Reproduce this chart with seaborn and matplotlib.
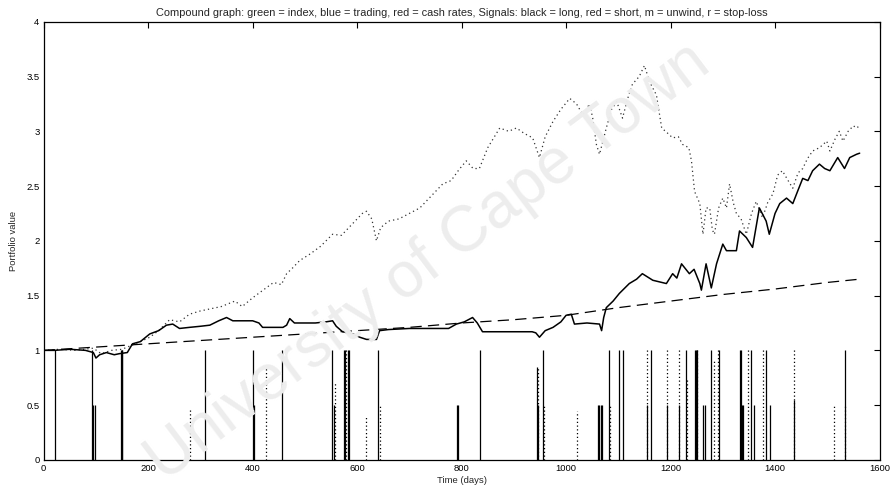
import matplotlib
matplotlib.use("Agg")
import matplotlib.pyplot as plt
import seaborn as sns
import pandas as pd
from matplotlib.ticker import FuncFormatter, MultipleLocator

# ---------------- data ----------------
index_days = [0, 30, 60, 95, 110, 130, 150, 170, 185, 203, 220, 241, 260, 279, 300, 320, 340, 366,
              380, 400, 420, 440, 455, 465, 476, 490, 510, 530, 553, 570, 590, 610, 618, 628, 637,
              645, 660, 680, 700, 720, 740, 764, 780, 795, 809, 822, 834, 850, 873, 890, 905, 920,
              936, 949, 960, 975, 990, 1007, 1020, 1032, 1045, 1051, 1058, 1064, 1077, 1087, 1097,
              1108, 1118, 1127, 1140, 1150, 1160, 1173, 1183, 1195, 1204, 1215, 1223, 1235, 1240,
              1246, 1256, 1262, 1268, 1275, 1280, 1284, 1292, 1300, 1307, 1313, 1320, 1326, 1335,
              1345, 1355, 1364, 1376, 1386, 1396, 1405, 1414, 1425, 1434, 1444, 1453, 1462, 1472,
              1485, 1499, 1505, 1515, 1523, 1530, 1540, 1550, 1556, 1562]
index_vals = [1.00, 1.01, 1.00, 1.02, 0.97, 1.00, 1.01, 1.05, 1.08, 1.12, 1.18, 1.28, 1.26, 1.33,
              1.36, 1.38, 1.40, 1.45, 1.40, 1.48, 1.55, 1.62, 1.60, 1.70, 1.75, 1.82, 1.88, 1.95,
              2.06, 2.05, 2.15, 2.25, 2.27, 2.20, 2.00, 2.12, 2.18, 2.20, 2.25, 2.30, 2.40, 2.52,
              2.55, 2.65, 2.73, 2.66, 2.66, 2.85, 3.03, 3.00, 3.03, 2.98, 2.94, 2.76, 2.95, 3.09,
              3.20, 3.30, 3.25, 3.15, 3.25, 3.12, 2.88, 2.79, 3.03, 3.20, 3.27, 3.12, 3.30, 3.43,
              3.50, 3.60, 3.45, 3.33, 3.03, 2.98, 2.94, 2.95, 2.88, 2.85, 2.73, 2.45, 2.34, 2.06,
              2.30, 2.30, 2.10, 2.06, 2.30, 2.39, 2.30, 2.52, 2.35, 2.25, 2.20, 2.06, 2.25, 2.36,
              2.21, 2.35, 2.43, 2.60, 2.64, 2.55, 2.48, 2.62, 2.66, 2.75, 2.82, 2.85, 2.91, 2.82,
              2.93, 3.00, 2.91, 3.00, 3.05, 3.03, 3.05]

trading_days = [0, 20, 50, 80, 95, 100, 107, 120, 135, 145, 160, 170, 185, 203, 220, 235, 247, 260,
                279, 300, 318, 335, 350, 362, 380, 400, 412, 419, 440, 458, 465, 471, 480, 490, 520,
                540, 553, 560, 572, 592, 605, 618, 637, 643, 660, 700, 740, 775, 790, 805, 821, 830,
                840, 870, 900, 935, 942, 949, 960, 975, 990, 1000, 1010, 1016, 1040, 1064, 1068,
                1072, 1077, 1090, 1102, 1121, 1135, 1146, 1166, 1192, 1204, 1212, 1221, 1236, 1245,
                1256, 1259, 1268, 1278, 1288, 1300, 1307, 1326, 1332, 1345, 1357, 1370, 1383, 1389,
                1400, 1409, 1422, 1434, 1443, 1453, 1463, 1472, 1485, 1495, 1505, 1520, 1533, 1543,
                1556, 1562]
trading_vals = [1.00, 1.00, 1.01, 1.00, 0.98, 0.93, 0.96, 0.98, 0.96, 0.97, 0.98, 1.06, 1.08, 1.15,
                1.18, 1.23, 1.24, 1.20, 1.21, 1.22, 1.23, 1.27, 1.30, 1.27, 1.27, 1.27, 1.25, 1.21,
                1.21, 1.21, 1.23, 1.29, 1.25, 1.25, 1.25, 1.26, 1.27, 1.22, 1.17, 1.15, 1.12, 1.10,
                1.10, 1.18, 1.19, 1.20, 1.20, 1.20, 1.24, 1.26, 1.30, 1.25, 1.17, 1.17, 1.17, 1.17,
                1.16, 1.12, 1.18, 1.21, 1.26, 1.32, 1.33, 1.24, 1.25, 1.24, 1.18, 1.30, 1.39, 1.45,
                1.52, 1.61, 1.65, 1.70, 1.64, 1.61, 1.70, 1.66, 1.79, 1.70, 1.74, 1.61, 1.55, 1.79,
                1.57, 1.79, 1.97, 1.91, 1.91, 2.09, 2.03, 1.94, 2.30, 2.18, 2.06, 2.25, 2.34, 2.39,
                2.34, 2.45, 2.57, 2.55, 2.64, 2.70, 2.66, 2.64, 2.76, 2.66, 2.76, 2.79, 2.80]

cash_days = [0, 100, 200, 300, 400, 500, 600, 700, 800, 900, 1000, 1100, 1200, 1300, 1400, 1500, 1562]
cash_vals = [1.00, 1.03, 1.06, 1.09, 1.12, 1.15, 1.18, 1.21, 1.25, 1.28, 1.32, 1.39, 1.45, 1.51,
             1.56, 1.62, 1.65]

long_days = [22, 93, 95, 98, 148, 149, 150, 308, 400, 402, 456, 552, 555, 575, 577, 582, 584, 640,
             792, 794, 835, 944, 946, 955, 1061, 1063, 1066, 1069, 1082, 1101, 1109, 1155, 1163,
             1194, 1217, 1230, 1246, 1248, 1251, 1263, 1265, 1278, 1292, 1332, 1334, 1336, 1338,
             1354, 1360, 1382, 1391, 1436, 1534]
long_heights = [1.0, 1.0, 0.5, 0.5, 1.0, 1.0, 1.0, 1.0, 1.0, 0.5, 1.0, 1.0, 0.5, 1.0, 1.0, 1.0, 1.0, 1.0,
                0.5, 0.5, 1.0, 0.85, 0.5, 1.0, 0.5, 0.5, 0.5, 0.5, 1.0, 1.0, 1.0, 0.5, 1.0,
                0.5, 0.5, 1.0, 1.0, 1.0, 1.0, 0.5, 0.5, 1.0, 1.0, 1.0, 1.0, 0.5, 0.5,
                1.0, 0.5, 1.0, 0.5, 0.55, 1.0]

short_days = [280, 425, 558, 579, 617, 644, 946, 958, 1021, 1084, 1155, 1194, 1217, 1232, 1250,
              1283, 1290, 1348, 1377, 1436, 1513, 1534]
short_heights = [0.47, 0.85, 0.7, 1.0, 0.4, 0.5, 0.85, 0.5, 0.45, 0.5, 1.0, 1.0, 1.0, 0.75, 1.0,
                 0.9, 1.0, 1.0, 1.0, 1.0, 0.5, 0.5]

title_text = ("Compound graph: green = index, blue = trading, red = cash rates, "
              "Signals: black = long, red = short, m = unwind, r = stop-loss")
watermark_text = "University of Cape Town"

# ---------------- plot ----------------
sns.set_theme(style="white")
plt.rcParams['font.family'] = ['Liberation Sans', 'DejaVu Sans']

fig = plt.figure(figsize=(8.92, 4.94), dpi=100)
fig.patch.set_facecolor("white")

# watermark (kept fully inside the canvas)
fig.text(0.48, 0.47, watermark_text, rotation=37, fontsize=46,
         color="#ededed", ha="center", va="center", zorder=0)

ax = fig.add_axes([0.049, 0.069, 0.937, 0.887])
ax.set_facecolor("none")

df_index = pd.DataFrame({"day": index_days, "value": index_vals})
df_trade = pd.DataFrame({"day": trading_days, "value": trading_vals})
df_cash = pd.DataFrame({"day": cash_days, "value": cash_vals})

sns.lineplot(data=df_index, x="day", y="value", ax=ax, color="#333333", lw=0.9,
             linestyle=(0, (1, 2.5)), estimator=None, sort=False)
sns.lineplot(data=df_trade, x="day", y="value", ax=ax, color="black", lw=1.1,
             estimator=None, sort=False)
sns.lineplot(data=df_cash, x="day", y="value", ax=ax, color="black", lw=0.9,
             linestyle=(0, (9, 5)), estimator=None, sort=False)

ax.vlines(long_days, 0, long_heights, colors="black", lw=0.9)
ax.vlines(short_days, 0, short_heights, colors="black", lw=0.9, linestyles=(0, (1, 2)))

ax.set_xlim(0, 1600)
ax.set_ylim(0, 4)
ax.xaxis.set_major_locator(MultipleLocator(200))
ax.yaxis.set_major_locator(MultipleLocator(0.5))
ax.yaxis.set_major_formatter(FuncFormatter(lambda v, p: ("%g" % v)))
ax.xaxis.set_major_formatter(FuncFormatter(lambda v, p: ("%g" % v)))
ax.tick_params(direction="in", length=4, width=0.8, top=True, right=True,
               labelsize=6.8, colors="black", pad=3)
for s in ax.spines.values():
    s.set_color("black")
    s.set_linewidth(0.9)

ax.set_xlabel("Time (days)", fontsize=6.8, labelpad=2)
ax.set_ylabel("Portfolio value", fontsize=6.8, labelpad=6)
ax.set_title(title_text, fontsize=7.9, pad=4)

fig.savefig("out.png", dpi=100, facecolor="white")
